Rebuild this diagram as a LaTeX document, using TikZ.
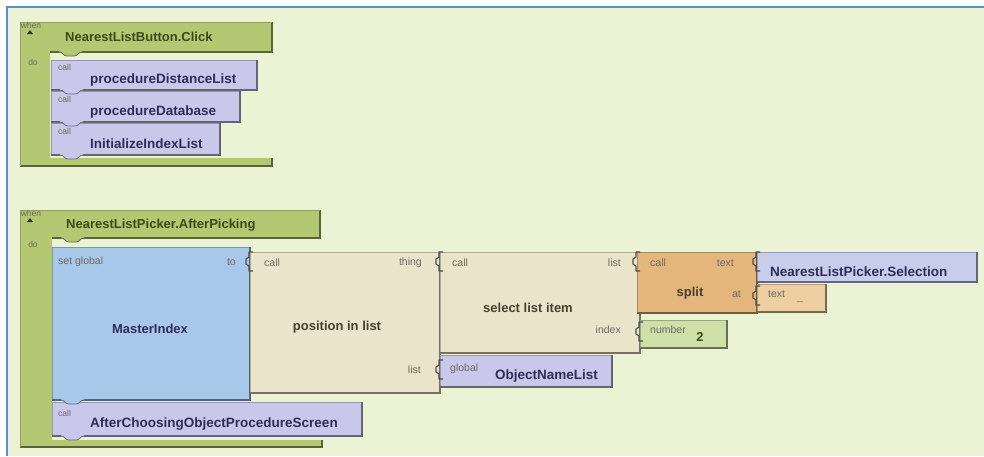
\documentclass[tikz,border=0pt]{standalone}
\usepackage{fontspec}
\setmainfont{Liberation Sans}
\begin{document}
\definecolor{paper}{HTML}{EBF3D4}
\definecolor{framecol}{HTML}{5B8FD0}
\definecolor{evcol}{HTML}{B4C772}
\definecolor{lavcol}{HTML}{C9C8EA}
\definecolor{selcol}{HTML}{C9CDEC}
\definecolor{setcol}{HTML}{A8C8EA}
\definecolor{tancol}{HTML}{EAE4CB}
\definecolor{orcol}{HTML}{E4B57D}
\definecolor{txtcol}{HTML}{EDCFA2}
\definecolor{numcol}{HTML}{CEE0A7}
\definecolor{evink}{HTML}{3A4A18}
\definecolor{lavink}{HTML}{2E2D57}
\definecolor{tanink}{HTML}{45412C}
\definecolor{smallink}{HTML}{6B6B5E}
\begin{tikzpicture}[x=1pt,y=-1pt,
  lbl/.style={inner sep=0pt, font=\fontsize{13}{15}\selectfont\bfseries},
  hdr/.style={lbl, text=evink},
  lavlbl/.style={lbl, text=lavink, font=\fontsize{13.5}{15}\selectfont\bfseries},
  tanlbl/.style={lbl, text=tanink},
  small/.style={inner sep=0pt, text=smallink, font=\fontsize{10.5}{12}\selectfont},
  tiny/.style={inner sep=0pt, text=smallink, font=\fontsize{8.5}{9}\selectfont},
  socket/.style={draw=#1, line width=1.1pt, line join=round}]
% block body with a lit top/left edge and a shaded right/bottom edge
\newcommand\blockrect[5]{%
  \fill[#5] (#1,#2) rectangle (#3,#4);
  \draw[#5!75!black, line width=0.6pt] (#1,#4) -- (#1,#2) -- (#3,#2);
  \draw[#5!50!black, line width=1.6pt] (#3,#2) -- (#3,#4) -- (#1,#4);}
% statement tab under a block
\newcommand\stmttab[3]{%
  \fill[#3] (#1+9,#2-1) -- (#1+9,#2) .. controls (#1+13,#2) and (#1+13,#2+4) .. (#1+17,#2+4)
    -- (#1+24,#2+4) .. controls (#1+28,#2+4) and (#1+28,#2) .. (#1+32,#2) -- (#1+32,#2-1) -- cycle;
  \draw[#3!55!black, line width=0.8pt] (#1+9,#2) .. controls (#1+13,#2) and (#1+13,#2+4) .. (#1+17,#2+4)
    -- (#1+24,#2+4) .. controls (#1+28,#2+4) and (#1+28,#2) .. (#1+32,#2);}
% input socket bracket at the joint of two blocks
\newcommand\sockat[3]{%
  \draw[socket=#3] (#1+3,#2) -- (#1-1,#2) -- (#1-1,#2+5) -- (#1-4,#2+7) -- (#1-4,#2+12) -- (#1-1,#2+14) -- (#1-1,#2+19) -- (#1+3,#2+19);}
\newcommand\whenmark[2]{%
  \node[tiny] (#1) at (31,#2) {when};
  \fill[black!80] (27,#2+9) -- (30,#2+5) -- (33,#2+9) -- cycle;}

\useasboundingbox (0,0) rectangle (984,456);
\fill[white] (0,0) rectangle (984,456);
\fill[paper] (7,7) rectangle (984,456);
\draw[framecol, line width=1.3pt] (7,456) -- (7,7) -- (984,7);

% ---------- event: NearestListButton.Click ----------
\fill[evcol] (20,22) -- (272,22) -- (272,52) -- (50,52) -- (50,158) -- (272,158)
  -- (272,166) -- (20,166) -- cycle;
\draw[evcol!50!black, line width=1.6pt] (272,22) -- (272,52) -- (50,52);
\draw[evcol!50!black, line width=1.6pt] (272,158) -- (272,166) -- (20,166);
\draw[evcol!80!black, line width=0.6pt] (20,166) -- (20,22) -- (272,22);
\whenmark{w1}{25}
\node[hdr, anchor=west] (ev1) at (65,37) {NearestListButton.Click};
\node[tiny] (do1) at (33,62) {do};

\blockrect{51}{123}{220}{155}{lavcol}
\blockrect{51}{91}{240}{122}{lavcol}
\blockrect{51}{60}{257}{90}{lavcol}
\stmttab{51}{155}{lavcol}
\stmttab{51}{122}{lavcol}
\stmttab{51}{90}{lavcol}
\stmttab{50}{52}{evcol}
\node[tiny, anchor=west] (c1) at (58,67) {call};
\node[lavlbl, anchor=west] (p1) at (90,80) {procedureDistanceList};
\node[tiny, anchor=west] (c2) at (58,99) {call};
\node[lavlbl, anchor=west] (p2) at (90,112) {procedureDatabase};
\node[tiny, anchor=west] (c3) at (58,131) {call};
\node[lavlbl, anchor=west] (p3) at (90,144) {InitializeIndexList};

% ---------- event: NearestListPicker.AfterPicking ----------
\fill[evcol] (20,210) -- (320,210) -- (320,238) -- (52,238) -- (52,440) -- (322,440)
  -- (322,447) -- (20,447) -- cycle;
\draw[evcol!50!black, line width=1.6pt] (320,210) -- (320,238) -- (52,238);
\draw[evcol!50!black, line width=1.6pt] (322,440) -- (322,447) -- (20,447);
\draw[evcol!80!black, line width=0.6pt] (20,447) -- (20,210) -- (320,210);
\whenmark{w2}{213}
\node[hdr, anchor=west] (ev2) at (66,225) {NearestListPicker.AfterPicking};
\node[tiny] (do2) at (33,244) {do};

% call AfterChoosingObjectProcedureScreen
\blockrect{52}{402}{362}{436}{lavcol}
\stmttab{52}{436}{lavcol}
\node[tiny, anchor=west] (c4) at (58,413) {call};
\node[lavlbl, anchor=west] (p4) at (90,424) {AfterChoosingObjectProcedureScreen};

% set global MasterIndex
\blockrect{52}{247}{250}{400}{setcol}
\stmttab{52}{400}{setcol}
\stmttab{52}{238}{evcol}
\node[small, anchor=west] (sg) at (58,262) {set global};
\node[small, anchor=east] (to) at (236,262) {to};
\node[lbl, text=lavink] (mi) at (150,329) {MasterIndex};

% position in list
\blockrect{250}{252}{440}{393}{tancol}
\sockat{250}{252}{black!70}
\node[small, anchor=west] (c5) at (264,263) {call};
\node[small, anchor=east] (th) at (422,263) {thing};
\node[small, anchor=east] (ls1) at (421,370) {list};
\node[tanlbl] (pil) at (337,327) {position in list};

% global ObjectNameList
\blockrect{440}{355}{612}{387}{lavcol}
\sockat{440}{360}{black!70}
\node[small, anchor=west] (gl) at (450,369) {global};
\node[lavlbl, anchor=west] (onl) at (495,376) {ObjectNameList};

% select list item
\blockrect{440}{252}{640}{353}{tancol}
\sockat{440}{252}{black!70}
\node[small, anchor=west] (c6) at (452,263) {call};
\node[small, anchor=east] (ls2) at (621,263) {list};
\node[small, anchor=east] (ix) at (621,330) {index};
\node[tanlbl] (sli) at (528,308) {select list item};

% number 2
\blockrect{640}{320}{727}{348}{numcol}
\sockat{640}{322}{black!70}
\node[small, anchor=west] (nb) at (650,330) {number};
\node[lbl, text=evink] (two) at (700,337) {2};

% split
\blockrect{637}{252}{757}{313}{orcol}
\sockat{637}{252}{black!70}
\node[small, anchor=west] (c7) at (650,263) {call};
\node[small, anchor=east] (tx1) at (734,263) {text};
\node[small, anchor=east] (at) at (741,294) {at};
\node[tanlbl] (sp) at (690,293) {split};

% NearestListPicker.Selection
\blockrect{757}{252}{977}{282}{selcol}
\sockat{757}{252}{black!70}
\node[lavlbl, anchor=west] (sel) at (770,272) {NearestListPicker.Selection};

% text _
\blockrect{757}{284}{826}{312}{txtcol}
\sockat{757}{286}{black!70}
\node[small, anchor=west] (tx2) at (768,294) {text};
\node[small] (us) at (800,302) {\_};
\end{tikzpicture}
\end{document}
